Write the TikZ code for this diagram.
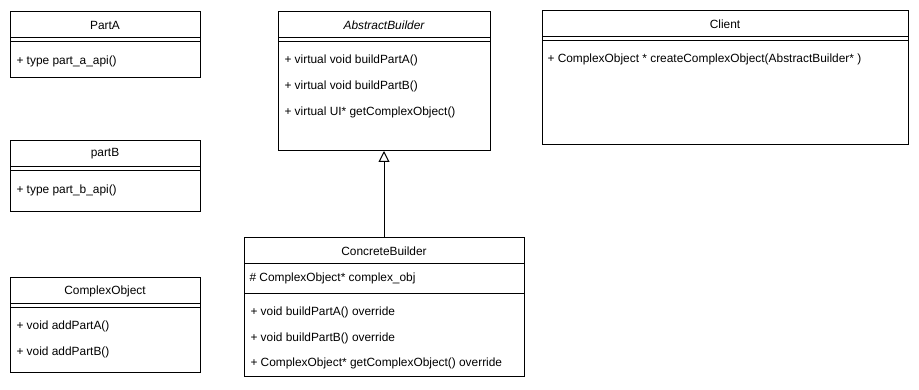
\documentclass[tikz,border=0pt]{standalone}
\usepackage{fontspec}
\setmainfont{Liberation Sans}
\usetikzlibrary{arrows.meta}
\begin{document}
\begin{tikzpicture}[x=1pt,y=-1pt,line width=1pt,
  umlbox/.style={draw,anchor=north west,inner sep=0pt,outer sep=0pt},
  classname/.style={font=\fontsize{11.9}{14}\selectfont,inner sep=0pt},
  member/.style={font=\fontsize{11.9}{14}\selectfont,anchor=west,inner sep=0pt},
  inherit/.style={-{Triangle[open,length=11pt,width=11pt]}}]
\useasboundingbox (0,0) rectangle (919,390);

% PartA
\node[umlbox,minimum width=190pt,minimum height=66pt] (partA) at (10,12) {};
\node[classname] (partA-name) at ([yshift=-13pt]partA.north) {PartA};
\draw ([yshift=-26pt]partA.north west) -- ([yshift=-26pt]partA.north east);
\draw ([yshift=-30pt]partA.north west) -- ([yshift=-30pt]partA.north east);
\node[member] (partA-m1) at ([xshift=6pt,yshift=-49pt]partA.north west) {+ type part\_a\_api()};

% partB
\node[umlbox,minimum width=190pt,minimum height=71pt] (partB) at (10,141) {};
\node[classname] (partB-name) at ([yshift=-13pt]partB.north) {partB};
\draw ([yshift=-26pt]partB.north west) -- ([yshift=-26pt]partB.north east);
\draw ([yshift=-30pt]partB.north west) -- ([yshift=-30pt]partB.north east);
\node[member] (partB-m1) at ([xshift=6pt,yshift=-49pt]partB.north west) {+ type part\_b\_api()};

% ComplexObject
\node[umlbox,minimum width=190pt,minimum height=94pt] (cobj) at (10,278) {};
\node[classname] (cobj-name) at ([yshift=-13pt]cobj.north) {ComplexObject};
\draw ([yshift=-26pt]cobj.north west) -- ([yshift=-26pt]cobj.north east);
\draw ([yshift=-30pt]cobj.north west) -- ([yshift=-30pt]cobj.north east);
\node[member] (cobj-m1) at ([xshift=6pt,yshift=-48pt]cobj.north west) {+ void addPartA()};
\node[member] (cobj-m2) at ([xshift=6pt,yshift=-74pt]cobj.north west) {+ void addPartB()};

% AbstractBuilder
\node[umlbox,minimum width=212pt,minimum height=139pt] (ab) at (278,12) {};
\node[classname,font=\fontsize{11.9}{14}\selectfont\itshape] (ab-name) at ([yshift=-13pt]ab.north) {AbstractBuilder};
\draw ([yshift=-26pt]ab.north west) -- ([yshift=-26pt]ab.north east);
\draw ([yshift=-30pt]ab.north west) -- ([yshift=-30pt]ab.north east);
\node[member] (ab-m1) at ([xshift=6pt,yshift=-48pt]ab.north west) {+ virtual void buildPartA()};
\node[member] (ab-m2) at ([xshift=6pt,yshift=-74pt]ab.north west) {+ virtual void buildPartB()};
\node[member] (ab-m3) at ([xshift=6pt,yshift=-100pt]ab.north west) {+ virtual UI* getComplexObject()};

% Client
\node[umlbox,minimum width=366pt,minimum height=134pt] (client) at (542,11) {};
\node[classname] (client-name) at ([yshift=-13pt]client.north) {Client};
\draw ([yshift=-26pt]client.north west) -- ([yshift=-26pt]client.north east);
\draw ([yshift=-30pt]client.north west) -- ([yshift=-30pt]client.north east);
\node[member] (client-m1) at ([xshift=5pt,yshift=-48pt]client.north west) {+ ComplexObject * createComplexObject(AbstractBuilder* )};

% ConcreteBuilder
\node[umlbox,minimum width=280pt,minimum height=138pt] (cb) at (244,238) {};
\node[classname] (cb-name) at ([yshift=-13pt]cb.north) {ConcreteBuilder};
\draw ([yshift=-26pt]cb.north west) -- ([yshift=-26pt]cb.north east);
\node[member] (cb-a1) at ([xshift=5pt,yshift=-40pt]cb.north west) {\# ComplexObject* complex\_obj};
\draw ([yshift=-56pt]cb.north west) -- ([yshift=-56pt]cb.north east);
\node[member] (cb-m1) at ([xshift=6pt,yshift=-74pt]cb.north west) {+ void buildPartA() override};
\node[member] (cb-m2) at ([xshift=6pt,yshift=-100pt]cb.north west) {+ void buildPartB() override};
\node[member] (cb-m3) at ([xshift=6pt,yshift=-125pt]cb.north west) {+ ComplexObject* getComplexObject() override};

% Generalization
\draw[inherit] (cb.north) -- (ab.south);
\end{tikzpicture}
\end{document}
